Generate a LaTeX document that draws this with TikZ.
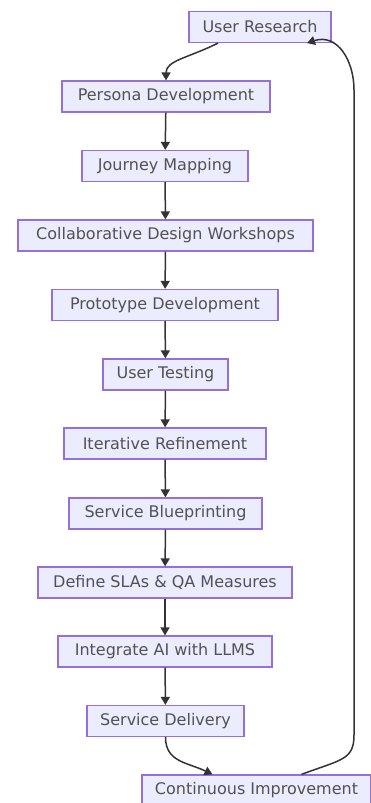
\documentclass[tikz,border=0pt]{standalone}
\usepackage{fontspec}
\setmainfont{DejaVu Sans}
\usetikzlibrary{arrows.meta}
\definecolor{boxfill}{HTML}{ECECFF}
\definecolor{boxline}{HTML}{9370DB}
\definecolor{ink}{HTML}{333333}
\tikzset{
  box/.style={draw=boxline, fill=boxfill, line width=1.2pt, minimum height=31pt, inner sep=0pt,
    text=ink!85, font=\fontsize{16}{18}\selectfont},
  flow/.style={draw=ink, line width=1.5pt, -{Triangle[length=8pt,width=9pt]}}
}
\begin{document}
\begin{tikzpicture}[x=1pt,y=-1pt]
\useasboundingbox (0,0) rectangle (371,803);
\node[box, minimum width=142] (ur) at (260,27) {User Research};
\node[box, minimum width=208] (pd) at (166,96.5) {Persona Development};
\node[box, minimum width=166] (jm) at (165,166) {Journey Mapping};
\node[box, minimum width=295] (cd) at (165.5,235.5) {Collaborative Design Workshops};
\node[box, minimum width=226] (pr) at (165,305) {Prototype Development};
\node[box, minimum width=125] (ut) at (165.5,374.5) {User Testing};
\node[box, minimum width=202] (ir) at (165,443.5) {Iterative Refinement};
\node[box, minimum width=193] (sb) at (165.5,513.5) {Service Blueprinting};
\node[box, minimum width=254] (ds) at (165,582.5) {Define SLAs \& QA Measures};
\node[box, minimum width=214] (ia) at (165,651.5) {Integrate AI with LLMS};
\node[box, minimum width=157] (sd) at (165.5,721) {Service Delivery};
\node[box, minimum width=229] (ci) at (256.5,790.5) {Continuous Improvement};
\coordinate (r1) at (354,735);
\coordinate (r2) at (354,90);
\draw[flow] ([xshift=-42pt]ur.south) .. controls +(-30,15) and +(0,-20) .. (pd.north);
\draw[flow] (pd) -- (jm);
\draw[flow] (jm) -- (cd);
\draw[flow] (cd) -- (pr);
\draw[flow] (pr) -- (ut);
\draw[flow] (ut) -- (ir);
\draw[flow] (ir) -- (sb);
\draw[flow] (sb) -- (ds);
\draw[flow] (ds) -- (ia);
\draw[flow] (ia) -- (sd);
\draw[flow] (sd.south) .. controls +(0,25) and +(-25,-12) .. ([xshift=-44pt]ci.north);
\draw[flow] ([xshift=45pt]ci.north) .. controls +(40,-15) and +(0,25) .. (r1) -- (r2) .. controls +(0,-30) and +(30,-10) .. ([xshift=47pt]ur.south);
\end{tikzpicture}
\end{document}
